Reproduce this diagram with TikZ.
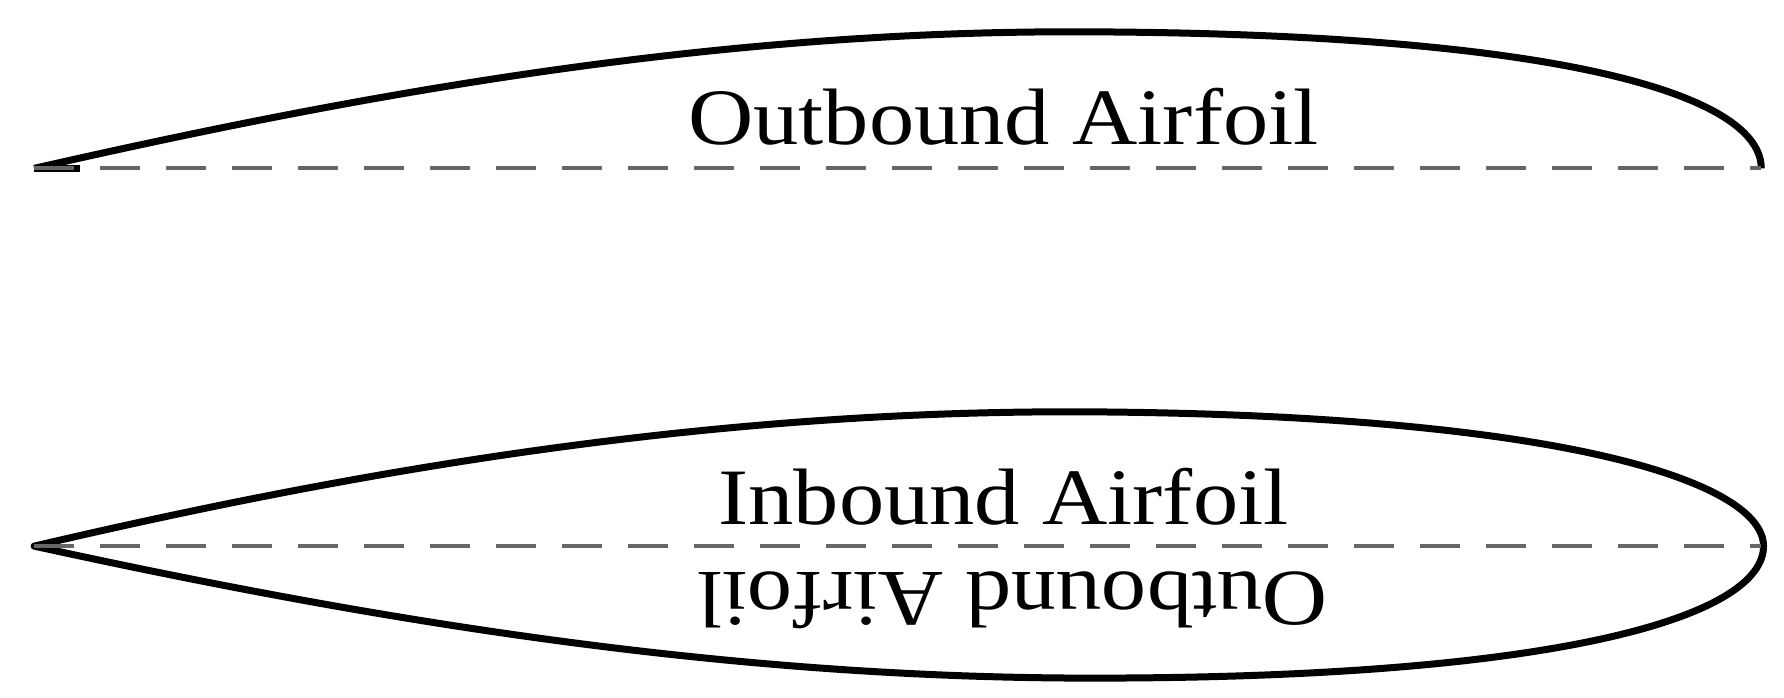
\documentclass[tikz,border=0pt]{standalone}
\usepackage{fontspec}
\setmainfont{Liberation Serif}
\begin{document}
\begin{tikzpicture}[x=1.1378pt,y=-1.1378pt,
  foil/.style={line width=7pt,black,line join=round},
  chord/.style={line width=4pt,gray!80!black,dash pattern=on 40pt off 26pt},
  lbl/.style={font=\fontsize{80}{80}\selectfont,inner sep=0pt,xscale=1.13}]
\useasboundingbox (0,0) rectangle (1568,613.4);
% top airfoil
\draw[foil] (30,148) .. controls (350,75) and (650,26) .. (960,28)
  .. controls (1380,30) and (1548,85) .. (1548,148);
\draw[foil] (30,148) -- (70,148);
\draw[chord] (30,148) -- (1548,148);
\node[lbl] (t1) at (882,103) {Outbound Airfoil};
% bottom airfoil
\draw[foil] (30,480) .. controls (350,405) and (650,360) .. (960,362)
  .. controls (1380,365) and (1550,425) .. (1550,480)
  .. controls (1550,540) and (1380,596) .. (960,596)
  .. controls (650,596) and (350,550) .. cycle;
\draw[chord] (30,480) -- (1548,480);
\node[lbl] (t2) at (882,437) {Inbound Airfoil};
\node[lbl,rotate=180] (t3) at (890,528) {Outbound Airfoil};
\end{tikzpicture}
\end{document}
